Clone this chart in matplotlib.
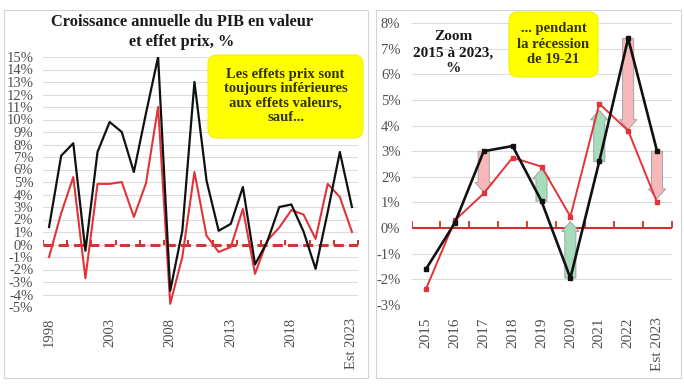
import matplotlib
matplotlib.use("Agg")
import matplotlib.pyplot as plt
from matplotlib.patches import FancyBboxPatch, Rectangle

# ---------------- data ----------------
years_left = [str(y) for y in range(1998, 2023)] + ["Est 2023"]
value_left = [1.4, 7.1, 8.1, -0.5, 7.4, 9.8, 9.0, 5.8, 10.5, 15.0, -3.7, 1.1, 13.0,
              5.1, 1.1, 1.65, 4.6, -1.6, 0.2, 3.0, 3.2, 1.05, -1.95, 2.6, 7.4, 3.0]
price_left = [-1.0, 2.5, 5.4, -2.7, 4.85, 4.85, 5.0, 2.2, 4.9, 11.0, -4.75, -1.0, 5.8,
              0.7, -0.6, -0.2, 2.85, -2.35, 0.3, 1.35, 2.75, 2.4, 0.45, 4.85, 3.8, 1.0]
left_shown_labels = ["1998", "2003", "2008", "2013", "2018", "Est 2023"]

years_right = ["2015", "2016", "2017", "2018", "2019", "2020", "2021", "2022", "Est 2023"]
value_right = [-1.6, 0.2, 3.0, 3.2, 1.05, -1.95, 2.6, 7.4, 3.0]
price_right = [-2.38, 0.3, 1.35, 2.75, 2.4, 0.45, 4.85, 3.8, 1.0]
# arrows (start at value, end near price effect)
arrow_years = ["2017", "2019", "2020", "2021", "2022", "Est 2023"]
arrow_from = [3.0, 1.05, -1.95, 2.6, 7.4, 3.0]
arrow_to = [1.4, 2.3, 0.25, 4.6, 3.85, 1.15]

left_yticks = list(range(-5, 16))
right_yticks = list(range(-3, 9))

# ---------------- style ----------------
W, H = 684, 385
SERIF = ["Liberation Serif", "DejaVu Serif"]
LBL = "#505050"
BLACK = "#111111"
RED = "#e2323a"
GRID = "#dcdcdc"
TXT = "#333300"

fig = plt.figure(figsize=(W / 100, H / 100), dpi=100)
fig.patch.set_facecolor("white")

def px(x0, y0, x1, y1):
    """figure-fraction rect from pixel box (top-left origin)."""
    return [x0 / W, 1 - y1 / H, (x1 - x0) / W, (y1 - y0) / H]

# panel frames
for (x0, y0, x1, y1) in [(4, 10, 368, 378), (376, 10, 681, 378)]:
    fig.patches.append(Rectangle((x0 / 100, (H - y1) / 100), (x1 - x0) / 100, (y1 - y0) / 100,
                                 transform=fig.dpi_scale_trans, fill=False,
                                 ec="#d4d4d4", lw=0.8))

def yellow_box(x0, y0, x1, y1):
    fig.patches.append(FancyBboxPatch((x0 / 100, (H - y1) / 100), (x1 - x0) / 100, (y1 - y0) / 100,
                                      boxstyle="round,pad=0,rounding_size=0.09",
                                      transform=fig.dpi_scale_trans,
                                      fc="#ffff00", ec="#f0f000", lw=0.8, zorder=5))

# ---------------- left chart ----------------
axL = fig.add_axes(px(43, 57, 358, 307))
xl = list(range(len(years_left)))
axL.set_xlim(-0.5, len(years_left) - 0.5)
axL.set_ylim(-5, 15)
axL.set_yticks(left_yticks)
axL.set_yticklabels([f"{v}%" for v in left_yticks])
axL.grid(axis="y", color=GRID, lw=0.8)
axL.set_axisbelow(True)
for s in axL.spines.values():
    s.set_visible(False)
axL.tick_params(length=0)
axL.tick_params(axis="y", pad=7, labelsize=10.5, labelcolor=LBL)
tick_pos = [years_left.index(l) for l in left_shown_labels]
axL.set_xticks(tick_pos)
axL.set_xticklabels(left_shown_labels, rotation=90, fontsize=10.5, color=LBL)
axL.tick_params(axis="x", pad=8)
for t in axL.get_xticklabels() + axL.get_yticklabels():
    t.set_family(SERIF)

axL.axhline(0, color="#cc3838", lw=2.2, dashes=(3.3, 1.7), zorder=1)
axL.plot([i - 0.5 for i in range(0, len(years_left) + 1, 2)],
         [0] * len(range(0, len(years_left) + 1, 2)),
         ls="none", marker=2, ms=3.5, mew=1.5, color="#cc3838", zorder=1)
axL.plot(xl, price_left, color=RED, lw=1.5, zorder=3)
axL.plot(xl, value_left, color=BLACK, lw=1.6, zorder=4)

fig.text(182 / W, 1 - 32 / H, "Croissance annuelle du PIB en valeur\net effet prix, %",
         ha="center", va="center", fontsize=11.8, weight="bold", family=SERIF,
         color="#1a1a1a", linespacing=1.3)

yellow_box(208, 55, 363, 138)
fig.text(285.5 / W, 1 - 96 / H,
         "Les effets prix sont\ntoujours inférieures\naux effets valeurs,\nsauf...",
         ha="center", va="center", fontsize=10.5, weight="bold", family=SERIF,
         color=TXT, linespacing=1.15, zorder=6)

# ---------------- right chart ----------------
axR = fig.add_axes(px(411.5, 23, 671.5, 305))
xr = list(range(len(years_right)))
axR.set_xlim(-0.5, len(years_right) - 0.5)
axR.set_ylim(-3, 8)
axR.set_yticks(right_yticks)
axR.set_yticklabels([f"{v}%" for v in right_yticks])
axR.grid(axis="y", color=GRID, lw=0.8)
axR.set_axisbelow(True)
for s in axR.spines.values():
    s.set_visible(False)
axR.tick_params(length=0)
axR.tick_params(axis="y", pad=8, labelsize=10.5, labelcolor=LBL)
axR.set_xticks(xr)
axR.set_xticklabels(years_right, rotation=90, fontsize=11, color=LBL)
axR.tick_params(axis="x", pad=9)
for t in axR.get_xticklabels() + axR.get_yticklabels():
    t.set_family(SERIF)

axR.axhline(0, color="#d03030", lw=1.5, zorder=1)
axR.plot([i - 0.5 for i in range(len(years_right) + 1)], [0] * (len(years_right) + 1),
         ls="none", marker=2, ms=5, mew=1.3, color="#d03030", zorder=1)

for yr, a, b in zip(arrow_years, arrow_from, arrow_to):
    i = years_right.index(yr)
    up = b > a
    axR.annotate("", xy=(i, b), xytext=(i, a),
                 arrowprops=dict(arrowstyle="simple,head_length=0.7,head_width=1.25,tail_width=0.8",
                                 fc="#a6dcbc" if up else "#f6b8b8", ec="#9a9a9a", lw=0.6,
                                 shrinkA=0, shrinkB=0, mutation_scale=10),
                 zorder=2)

axR.plot(xr, price_right, color=RED, lw=1.4, marker="s", ms=3.5, zorder=3)
axR.plot(xr, value_right, color=BLACK, lw=1.9, marker="s", ms=3.5, zorder=4)

fig.text(453 / W, 1 - 53 / H, "Zoom\n2015 à 2023,\n%",
         ha="center", va="center", fontsize=11, weight="bold", family=SERIF,
         color="#1a1a1a", linespacing=1.3)

yellow_box(509, 12, 598, 77)
fig.text(553.5 / W, 1 - 44 / H, "... pendant\nla récession\nde 19-21",
         ha="center", va="center", fontsize=10.5, weight="bold", family=SERIF,
         color=TXT, linespacing=1.22, zorder=6)

fig.savefig("out.png", dpi=100, facecolor="white")
